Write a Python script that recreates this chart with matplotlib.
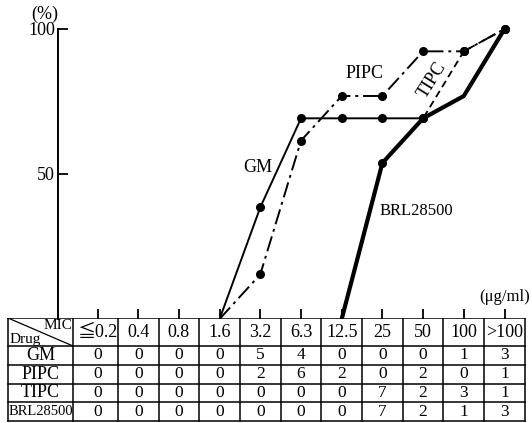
import matplotlib
matplotlib.use("Agg")
from matplotlib import pyplot as plt

plt.rcParams['font.family'] = ['Liberation Serif', 'DejaVu Serif', 'Noto Sans CJK JP']

# MIC categories (ug/ml)
mic_labels = ["≦0.2", "0.4", "0.8", "1.6", "3.2", "6.3", "12.5", "25", "50", "100", ">100"]
drugs = ["GM", "PIPC", "TIPC", "BRL28500"]

# Number of strains per MIC (table)
counts = {
    "GM":       [0, 0, 0, 0, 5, 4, 0, 0, 0, 1, 3],
    "PIPC":     [0, 0, 0, 0, 2, 6, 2, 0, 2, 0, 1],
    "TIPC":     [0, 0, 0, 0, 0, 0, 0, 7, 2, 3, 1],
    "BRL28500": [0, 0, 0, 0, 0, 0, 0, 7, 2, 1, 3],
}

# Cumulative % (x = MIC category index)
gm_x = [3, 4, 5, 6, 7, 8, 9, 10]
gm_y = [0, 38.5, 69.2, 69.2, 69.2, 69.2, 76.9, 100]
pipc_x = [3, 4, 5, 6, 7, 8, 9, 10]
pipc_y = [0, 15.4, 61.5, 76.9, 76.9, 92.3, 92.3, 100]
tipc_x = [6, 7, 8, 9, 10]
tipc_y = [0, 53.8, 69.2, 92.3, 100]
brl_x = [6, 7, 8, 9, 10]
brl_y = [0, 53.8, 69.2, 76.9, 100]

W, H = 532, 423
fig = plt.figure(figsize=(W / 100, H / 100), dpi=100)


def box(x0, y0, x1, y1):
    # pixel box (top-left origin) -> figure fraction
    return [x0 / W, 1 - y1 / H, (x1 - x0) / W, (y1 - y0) / H]


# pixel mapping: category i at 97.5 + 40.7*i
px0, dpx = 97.5, 40.7
xlo, xhi = (58 - px0) / dpx, (W - px0) / dpx

ax = fig.add_axes(box(58, 10, W, 319))
ax.set_xlim(xlo, xhi)
ax.set_ylim(0, 100 * 309 / 290)

ax.plot(brl_x, brl_y, color="black", lw=3.0, solid_joinstyle="round")
ax.plot(brl_x[-2:], brl_y[-2:], color="white", lw=0.8)
ax.plot(gm_x[:-2], gm_y[:-2], color="black", lw=1.4, marker="o", ms=5.5,
        markevery=[1, 2, 3, 4, 5])
ax.plot(gm_x[-3:], gm_y[-3:], color="black", lw=1.4)
ax.plot(pipc_x, pipc_y, color="black", lw=1.4, dashes=(8, 2.5, 1.5, 2.5),
        marker="o", ms=5.5, markevery=[1, 2, 3, 4, 5, 6, 7])
ax.plot(tipc_x, tipc_y, color="black", lw=1.3, dashes=(4, 2.5),
        marker="o", ms=5.5, markevery=[1, 2, 3, 4])

ax.text(3.94, 52.4, "GM", fontsize=13, ha="center", va="center")
ax.text(6.57, 84.8, "PIPC", fontsize=13, ha="center", va="center")
ax.text(8.22, 82.4, "TIPC", fontsize=13, ha="center", va="center", rotation=58)
ax.text(6.94, 37.2, "BRL28500", fontsize=12, ha="left", va="center")

for s in ["top", "right", "bottom"]:
    ax.spines[s].set_visible(False)
ax.spines["left"].set_bounds(0, 100)
ax.spines["left"].set_linewidth(1.4)
ax.set_yticks([50, 100])
ax.set_yticklabels(["50", "100"], fontsize=13)
ax.set_xticks(range(len(mic_labels)))
ax.set_xticklabels([])
ax.tick_params(axis="both", direction="in", length=7, width=1.3, pad=2)

fig.text(45 / W, 1 - 14 / H, "(%)", fontsize=13, ha="center", va="center")
fig.text(530 / W, 1 - 297 / H, "(μg/ml)", fontsize=12, ha="right", va="center")

# Table drawn in its own axes, x in category units, y in pixels
tab = fig.add_axes(box(0, 318, W, 422))
tab.set_xlim(-px0 / dpx, (W - px0) / dpx)
tab.set_ylim(104, 0)
tab.axis("off")

left = (8 - px0) / dpx
head_r = (73 - px0) / dpx
right = len(mic_labels) - 0.5
rows = [0, 28, 46.75, 65.5, 84.25, 103]

for y in rows:
    tab.plot([left, right], [y, y], color="black", lw=1.1)
for x in [left, head_r] + [i + 0.5 for i in range(len(mic_labels))]:
    tab.plot([x, x], [0, rows[-1]], color="black", lw=1.1)
tab.plot([left, head_r], [0, 28], color="black", lw=0.9)
tab.text(head_r - 0.02, 7.5, "MIC", fontsize=11, ha="right", va="center")
tab.text(left + 0.03, 21, "Drug", fontsize=11, ha="left", va="center")

for i, lab in enumerate(mic_labels):
    tab.text(i, 14.5, lab, fontsize=13, ha="center", va="center")
for r, d in enumerate(drugs):
    yc = (rows[r + 1] + rows[r + 2]) / 2
    tab.text((left + head_r) / 2, yc, d, fontsize=13 if d != "BRL28500" else 10.5,
             ha="center", va="center")
    for i, v in enumerate(counts[d]):
        tab.text(i, yc, str(v), fontsize=12.5, ha="center", va="center")

fig.savefig("out.png", dpi=100)
